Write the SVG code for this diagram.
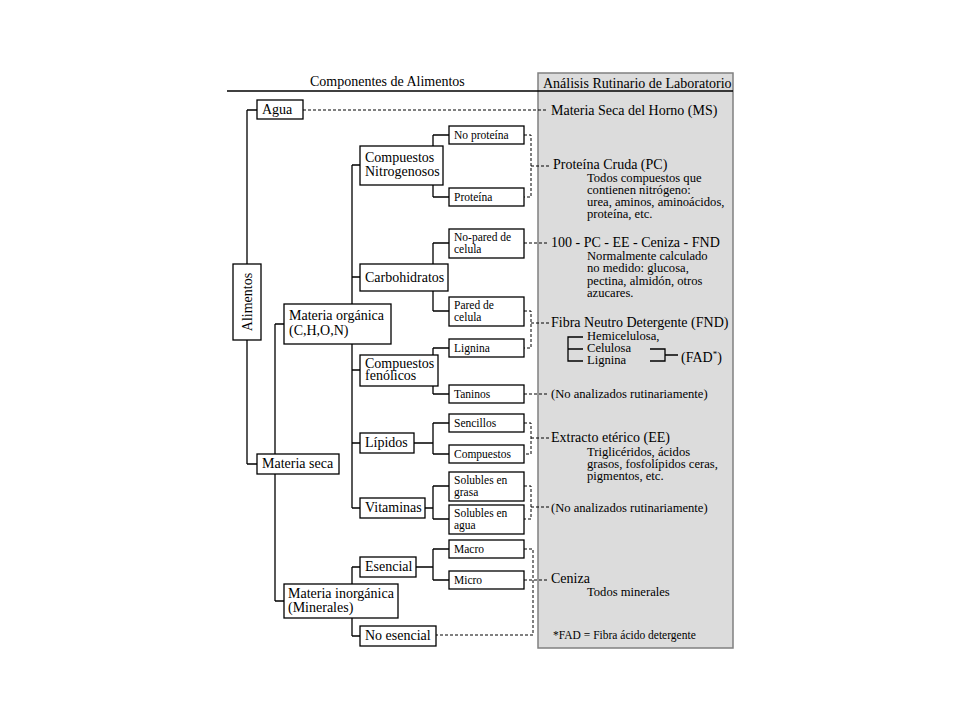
<svg xmlns="http://www.w3.org/2000/svg" width="960" height="720" viewBox="0 0 960 720">
<style>
  text { font-family: "Liberation Serif", "Times New Roman", serif; fill: #000; }
  .lbl { font-size: 14px; }
  .sm { font-size: 11.5px; }
  .sub { font-size: 12.6px; }
  .note { font-size: 11.5px; }
  .box { fill: #fff; stroke: #000; stroke-width: 1.3; }
  .tree { fill: none; stroke: #000; stroke-width: 1.3; }
  .dash { fill: none; stroke: #000; stroke-width: 1; stroke-dasharray: 3 2; }
  .panel { fill: #dcdcdc; stroke: #808080; stroke-width: 1.5; }
</style>
<rect width="960" height="720" fill="#fff"/>

<!-- panel and header -->
<g id="panel">
  <rect class="panel" x="538" y="73" width="195" height="575"/>
  <line x1="227" y1="91" x2="733" y2="91" stroke="#000" stroke-width="1.3"/>
  <text class="lbl" x="310" y="86">Componentes de Alimentos</text>
  <text class="lbl" x="543" y="88">Análisis Rutinario de Laboratorio</text>
</g>

<!-- connectors -->
<g id="connectors">
  <path class="tree" d="M247 110 V464 M247 110 H257 M247 464 H257"/>
  <path class="tree" d="M275 324 V601 M275 324 H284 M275 601 H284"/>
  <path class="tree" d="M352 165 V508 M352 165 H360 M352 277 H360 M352 370 H360 M352 443 H360 M352 508 H360"/>
  <path class="tree" d="M352 567 V636 M352 567 H360 M352 636 H360"/>
  <path class="tree" d="M433 135 V197 M433 135 H449 M433 197 H449"/>
  <path class="tree" d="M433 243 V311 M433 243 H449 M433 311 H449"/>
  <path class="tree" d="M433 348 V394 M433 348 H449 M433 394 H449"/>
  <path class="tree" d="M414 443 H433 M433 423 V454 M433 423 H449 M433 454 H449"/>
  <path class="tree" d="M425 508 H433 M433 486 V519 M433 486 H449 M433 519 H449"/>
  <path class="tree" d="M416 567 H433 M433 549 V580 M433 549 H449 M433 580 H449"/>

  <path class="dash" d="M303 110 H548"/>
  <path class="dash" d="M524 135 H531 V197 H524 M531 166 H549"/>
  <path class="dash" d="M524 243 H549"/>
  <path class="dash" d="M524 311 H531 V348 H524 M531 323 H549"/>
  <path class="dash" d="M524 394 H549"/>
  <path class="dash" d="M524 423 H531 V454 H524 M531 438 H549"/>
  <path class="dash" d="M524 486 H531 V519 H524 M531 507 H549"/>
  <path class="dash" d="M524 549 H533 V635 H436 M524 580 H549"/>

  <path class="tree" d="M583 337 H568 V361 H583 M568 349 H583" stroke-width="1.2"/>
  <path class="tree" d="M650 349 H665 V361 H650 M665 355 H678" stroke-width="1.2"/>
</g>

<!-- nodes -->
<g id="agua"><rect class="box" x="257" y="100" width="46" height="19"/><text class="lbl" x="262" y="114">Agua</text></g>
<g id="alimentos"><rect class="box" x="233" y="264" width="28" height="76"/><text class="lbl" transform="translate(252,302) rotate(-90)" text-anchor="middle">Alimentos</text></g>
<g id="materia-seca"><rect class="box" x="257" y="454" width="82" height="20"/><text class="lbl" x="262" y="468">Materia seca</text></g>
<g id="materia-organica"><rect class="box" x="284" y="304" width="107" height="40"/><text class="lbl" x="289" y="320">Materia orgánica</text><text class="lbl" x="289" y="335">(C,H,O,N)</text></g>
<g id="materia-inorganica"><rect class="box" x="284" y="584" width="114" height="34"/><text class="lbl" x="288" y="598">Materia inorgánica</text><text class="lbl" x="288" y="612">(Minerales)</text></g>

<g id="comp-nitro"><rect class="box" x="360" y="146" width="83" height="39"/><text class="lbl" x="365" y="162">Compuestos</text><text class="lbl" x="365" y="176">Nitrogenosos</text></g>
<g id="carbohidratos"><rect class="box" x="360" y="264" width="88" height="27"/><text class="lbl" x="365" y="282">Carbohidratos</text></g>
<g id="comp-fenolicos"><rect class="box" x="360" y="355" width="78" height="31"/><text class="lbl" x="365" y="368">Compuestos</text><text class="lbl" x="365" y="380">fenólicos</text></g>
<g id="lipidos"><rect class="box" x="360" y="433" width="54" height="20"/><text class="lbl" x="365" y="447">Lípidos</text></g>
<g id="vitaminas"><rect class="box" x="360" y="498" width="65" height="20"/><text class="lbl" x="365" y="512">Vitaminas</text></g>
<g id="esencial"><rect class="box" x="360" y="557" width="56" height="20"/><text class="lbl" x="365" y="571">Esencial</text></g>
<g id="no-esencial"><rect class="box" x="360" y="626" width="76" height="20"/><text class="lbl" x="365" y="640">No esencial</text></g>

<g id="no-proteina"><rect class="box" x="449" y="126" width="75" height="18"/><text class="sm" x="454" y="139">No proteína</text></g>
<g id="proteina"><rect class="box" x="449" y="188" width="75" height="18"/><text class="sm" x="454" y="201">Proteína</text></g>
<g id="no-pared"><rect class="box" x="449" y="229" width="75" height="29"/><text class="sm" x="454" y="241">No-pared de</text><text class="sm" x="454" y="253">celula</text></g>
<g id="pared"><rect class="box" x="449" y="297" width="75" height="29"/><text class="sm" x="454" y="309">Pared de</text><text class="sm" x="454" y="321">celula</text></g>
<g id="lignina"><rect class="box" x="449" y="339" width="75" height="18"/><text class="sm" x="454" y="352">Lignina</text></g>
<g id="taninos"><rect class="box" x="449" y="385" width="75" height="18"/><text class="sm" x="454" y="398">Taninos</text></g>
<g id="sencillos"><rect class="box" x="449" y="414" width="75" height="18"/><text class="sm" x="454" y="427">Sencillos</text></g>
<g id="compuestos"><rect class="box" x="449" y="445" width="75" height="18"/><text class="sm" x="454" y="458">Compuestos</text></g>
<g id="sol-grasa"><rect class="box" x="449" y="472" width="75" height="29"/><text class="sm" x="454" y="484">Solubles en</text><text class="sm" x="454" y="496">grasa</text></g>
<g id="sol-agua"><rect class="box" x="449" y="505" width="75" height="29"/><text class="sm" x="454" y="517">Solubles en</text><text class="sm" x="454" y="529">agua</text></g>
<g id="macro"><rect class="box" x="449" y="540" width="75" height="18"/><text class="sm" x="454" y="553">Macro</text></g>
<g id="micro"><rect class="box" x="449" y="571" width="75" height="18"/><text class="sm" x="454" y="584">Micro</text></g>

<!-- analysis texts -->
<g id="ms"><text class="lbl" x="551" y="115">Materia Seca del Horno (MS)</text></g>
<g id="pc">
  <text class="lbl" x="553" y="169">Proteína Cruda (PC)</text>
  <text class="sub" x="587" y="182">Todos compuestos que</text>
  <text class="sub" x="587" y="194">contienen nitrógeno:</text>
  <text class="sub" x="587" y="206">urea, aminos, aminoácidos,</text>
  <text class="sub" x="587" y="218">proteína, etc.</text>
</g>
<g id="calc">
  <text class="lbl" x="551" y="247">100 - PC - EE - Ceniza - FND</text>
  <text class="sub" x="587" y="260">Normalmente calculado</text>
  <text class="sub" x="587" y="272">no medido: glucosa,</text>
  <text class="sub" x="587" y="285">pectina, almidón, otros</text>
  <text class="sub" x="587" y="297">azucares.</text>
</g>
<g id="fnd">
  <text class="lbl" x="551" y="327">Fibra Neutro Detergente (FND)</text>
  <text class="sub" x="587" y="340">Hemicelulosa,</text>
  <text class="sub" x="587" y="352">Celulosa</text>
  <text class="sub" x="587" y="364">Lignina</text>
  <text class="lbl" x="681" y="362">(FAD<tspan font-size="9" dy="-5">*</tspan><tspan dy="5">)</tspan></text>
</g>
<g id="na1"><text class="sub" x="551" y="398">(No analizados rutinariamente)</text></g>
<g id="ee">
  <text class="lbl" x="551" y="442">Extracto etérico (EE)</text>
  <text class="sub" x="587" y="456">Triglicéridos, ácidos</text>
  <text class="sub" x="587" y="468">grasos, fosfolípidos ceras,</text>
  <text class="sub" x="587" y="480">pigmentos, etc.</text>
</g>
<g id="na2"><text class="sub" x="551" y="512">(No analizados rutinariamente)</text></g>
<g id="ceniza">
  <text class="lbl" x="551" y="583">Ceniza</text>
  <text class="sub" x="587" y="596">Todos minerales</text>
</g>
<g id="fad-note"><text class="note" x="553" y="639">*FAD = Fibra ácido detergente</text></g>
</svg>
